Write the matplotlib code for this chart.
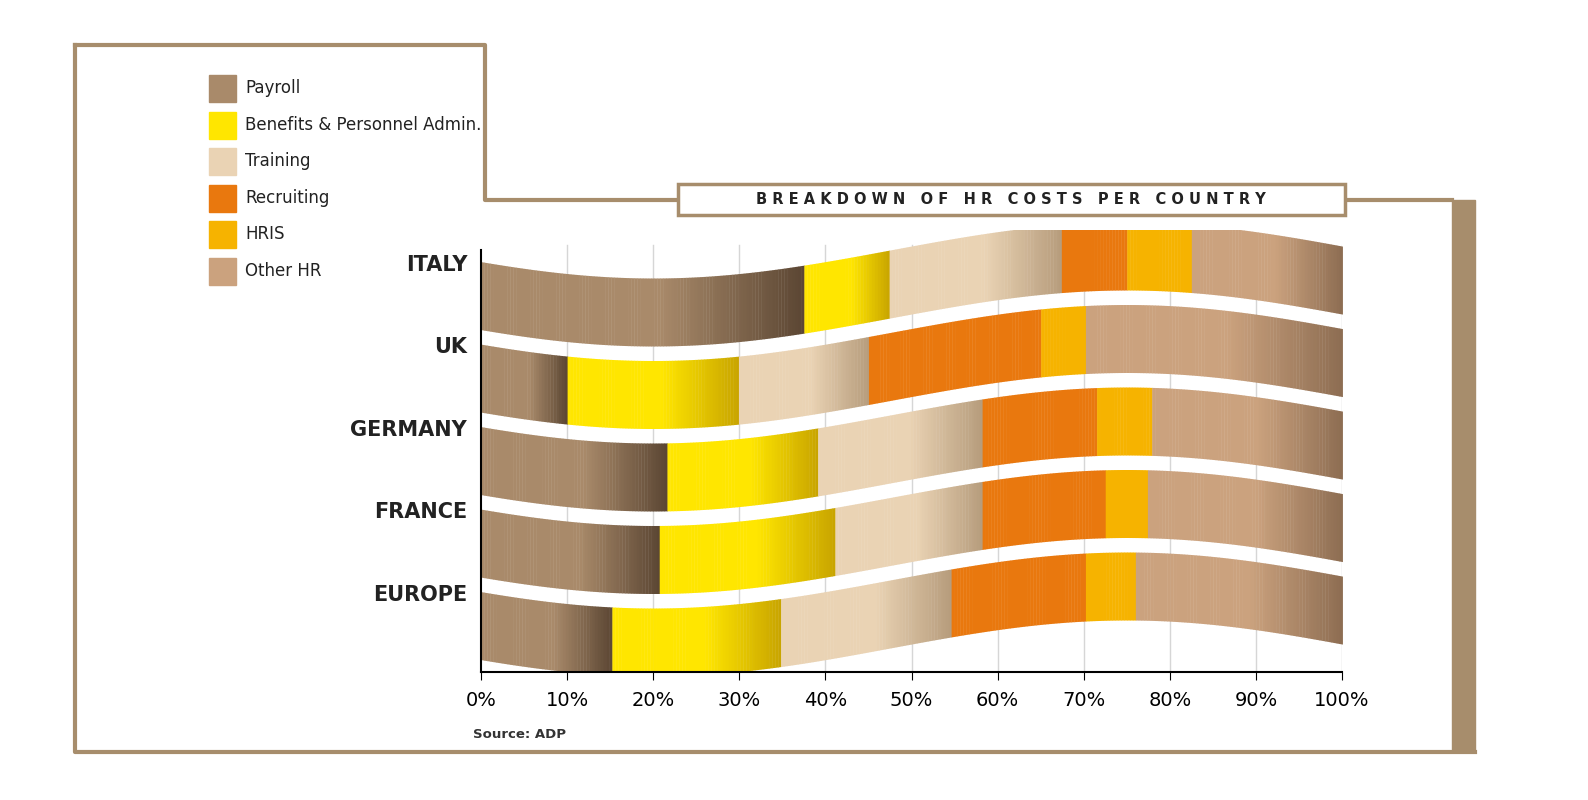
import numpy as np
import matplotlib.pyplot as plt
from matplotlib.colors import to_rgb
from matplotlib.patches import Rectangle

countries = ['ITALY', 'UK', 'GERMANY', 'FRANCE', 'EUROPE']
categories = ['Payroll', 'Benefits & Personnel Admin.', 'Training', 'Recruiting', 'HRIS', 'Other HR']
payroll = [37.5, 10.0, 21.6, 20.7, 15.2]
benefits = [9.9, 19.9, 17.5, 20.4, 19.6]
training = [20.0, 15.1, 19.1, 17.1, 19.8]
recruiting = [7.6, 20.0, 13.3, 14.3, 15.6]
hris = [7.5, 5.2, 6.4, 4.9, 5.8]
other = [17.5, 29.8, 22.1, 22.6, 24.0]
ticks = [0, 10, 20, 30, 40, 50, 60, 70, 80, 90, 100]

base_col = ['#a98a6a', '#ffe600', '#ead3b4', '#e9780e', '#f6b300', '#cba27e']
dark_col = ['#5b4633', '#c8a400', '#b69c7c', '#e9780e', '#f6b300', '#8d6d52']

W, H = 1588, 800
fig = plt.figure(figsize=(W / 100, H / 100), dpi=100)

# decoration layer in figure pixels
bg = fig.add_axes([0, 0, 1, 1])
bg.set_xlim(0, W)
bg.set_ylim(H, 0)
bg.axis('off')
tan = '#a78d6c'
bg.plot([75, 485, 485, 1452], [45, 45, 200, 200], color=tan, lw=3)
bg.plot([75, 75, 1475], [45, 752, 752], color=tan, lw=3)
bg.add_patch(Rectangle((1452, 200), 23, 552, color=tan))
bg.add_patch(Rectangle((678, 184), 667, 31, facecolor='white', edgecolor=tan, lw=2.5, zorder=3))
bg.text(1011, 200, 'B R E A K D O W N   O F   H R   C O S T S   P E R   C O U N T R Y',
        ha='center', va='center', fontsize=10.5, fontweight='bold', color='#222', zorder=4,
        family='DejaVu Sans Condensed')
for i, (c, lab) in enumerate(zip(base_col, categories)):
    y = 88 + i * 36.6
    bg.add_patch(Rectangle((209, y - 13), 27, 27, color=c))
    bg.text(245, y, lab, va='center', fontsize=12, color='#222', family='Liberation Sans Narrow')
bg.text(473, 735, 'Source: ADP', va='center', fontsize=9.5, fontweight='bold', color='#333',
        family='DejaVu Sans Condensed')

# main chart: x in percent, y in pixel-like units
ax = fig.add_axes([481 / W, 1 - 672 / H, 861 / W, (672 - 230) / H])
ax.set_xlim(0, 100)
ax.set_ylim(672, 230)
ax.patch.set_alpha(0)
for s in ['top', 'right']:
    ax.spines[s].set_visible(False)
ax.spines['bottom'].set_linewidth(1.5)
ax.spines['left'].set_bounds(250, 672)
ax.spines['left'].set_linewidth(1.5)
ax.set_xticks(ticks)
ax.set_xticklabels([f'{t}%' for t in ticks], fontsize=14, family='Liberation Sans Narrow')
ax.tick_params(axis='x', length=6, pad=8)
ax.set_yticks([])
for t in ticks[1:]:
    ax.plot([t, t], [245, 672], color='#d6d6d6', lw=1, zorder=0)


def wave(x):
    return 28 * np.cos(np.pi * (x - 20) / 55)


thick = 68
series = [payroll, benefits, training, recruiting, hris, other]
for r, name in enumerate(countries):
    base = 284 + 82.5 * r
    ax.text(-1.6, base - 19, name, ha='right', va='center', fontsize=15, fontweight='bold',
            family='DejaVu Sans', color='#222')
    start = 0.0
    for k in range(6):
        w = series[k][r]
        end = start + w
        n = max(int(w * 3), 4)
        edges = np.linspace(start, end, n + 1)
        c0, c1 = np.array(to_rgb(base_col[k])), np.array(to_rgb(dark_col[k]))
        for j in range(n):
            f = (j + 0.5) / n
            f = max(0.0, (f - 0.55) / 0.45)
            col = c0 + (c1 - c0) * f
            xs = np.linspace(edges[j], edges[j + 1] + 0.05, 4)
            cy = base + wave(xs)
            ax.fill_between(xs, cy - thick / 2, cy + thick / 2, color=col, lw=0, zorder=2)
        start = end

fig.savefig('out.png', dpi=100, facecolor='white')
